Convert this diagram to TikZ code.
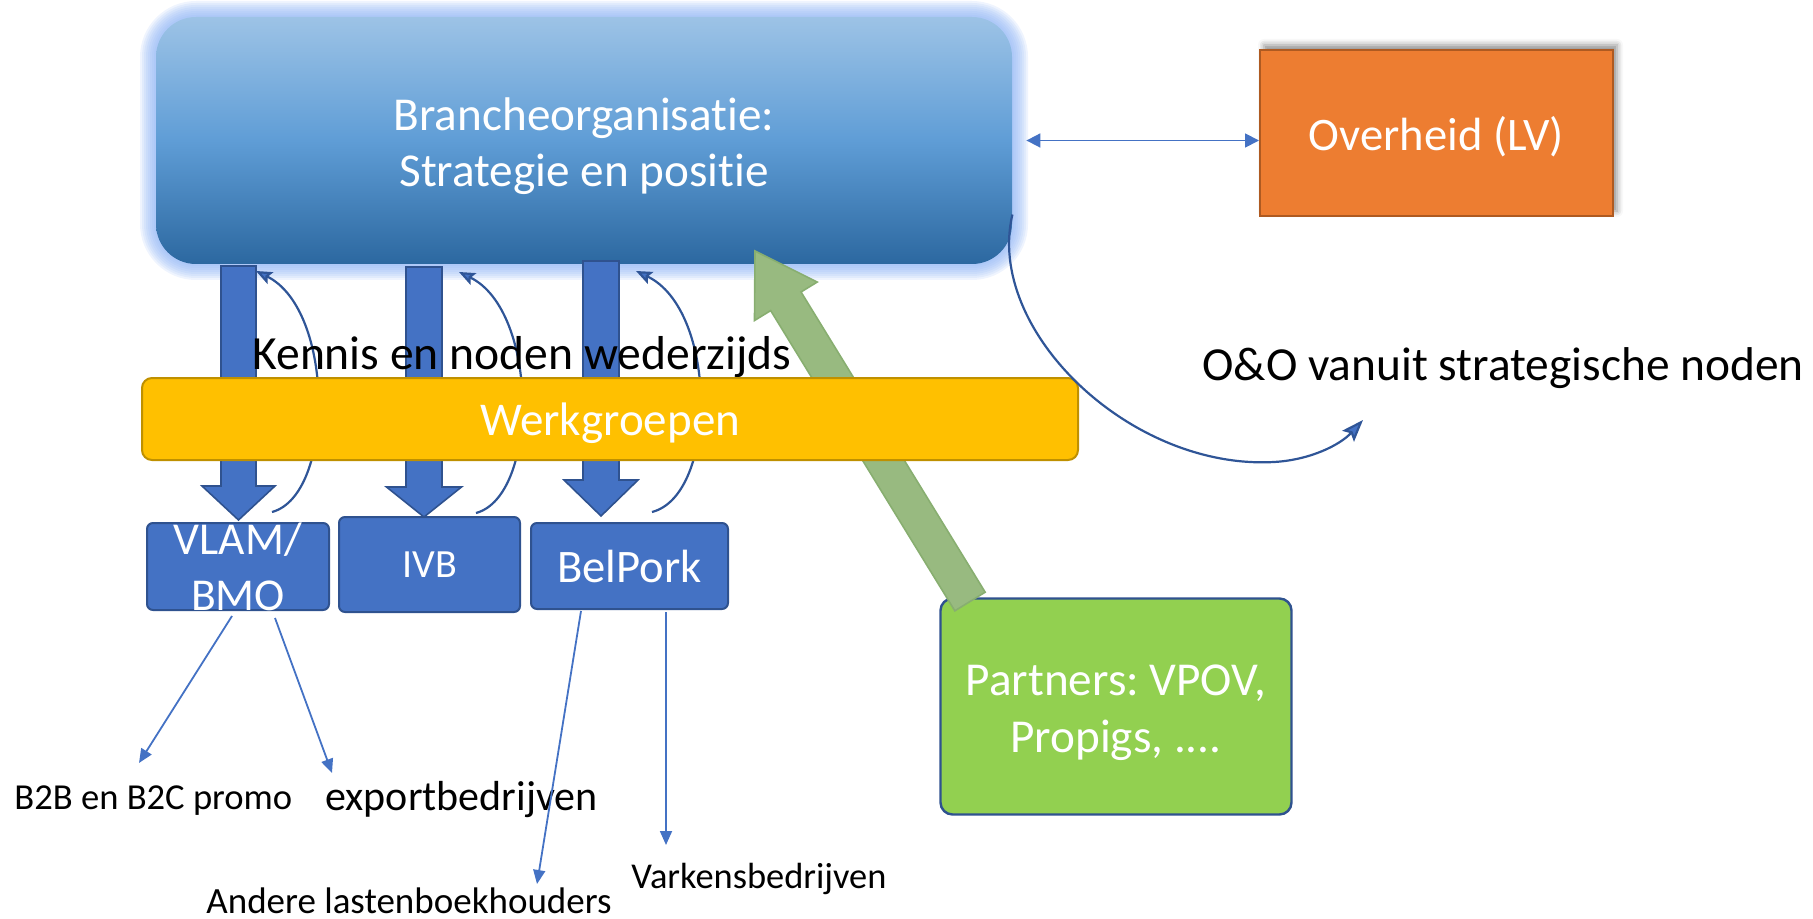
\documentclass[tikz,border=0pt]{standalone}
\usepackage{fontspec}
\setmainfont{Carlito}[Ligatures=NoCommon]
\usetikzlibrary{arrows.meta,shadows.blur,calc}
\frenchspacing

\definecolor{blueA}{RGB}{68,114,196}
\definecolor{blueD}{RGB}{47,82,143}
\definecolor{curveB}{RGB}{47,85,151}
\definecolor{topB}{RGB}{157,195,230}
\definecolor{midB}{RGB}{95,157,214}
\definecolor{botB}{RGB}{44,104,160}
\definecolor{glowB}{RGB}{140,178,245}
\definecolor{orangeF}{RGB}{237,125,49}
\definecolor{orangeD}{RGB}{174,90,33}
\definecolor{goldF}{RGB}{255,192,0}
\definecolor{goldD}{RGB}{191,144,0}
\definecolor{greenF}{RGB}{146,208,80}
\definecolor{greenA}{RGB}{152,186,128}
\definecolor{greenAD}{RGB}{136,174,112}

\newcommand{\blockarrow}[6]{%
  \draw[bigarrow] (#1-#2,#3) -- (#1+#2,#3) -- (#1+#2,#4) -- (#1+#6,#4) -- (#1,#5)
    -- (#1-#6,#4) -- (#1-#2,#4) -- cycle;}

\tikzset{
  mainbox/.style={rectangle, rounded corners=20pt, minimum width=428pt, minimum height=123.5pt,
    top color=topB, bottom color=botB, middle color=midB, inner sep=0pt},
  wtext/.style={text=white, inner sep=0pt, align=center},
  bigfont/.style={font=\fontsize{23.6}{28.3}\selectfont},
  obox/.style={rectangle, fill=orangeF, draw=orangeD, line width=1pt, minimum width=176.5pt,
    minimum height=83pt, text=white, inner sep=0pt, text depth=0pt},
  wbar/.style={rectangle, rounded corners=5pt, fill=goldF, draw=goldD, line width=1pt,
    minimum width=468pt, minimum height=41pt, text=white, inner sep=0pt, text depth=0pt},
  lbox/.style={rectangle, rounded corners=3pt, fill=blueA, draw=blueD, line width=1pt,
    inner sep=0pt, text=white},
  pbox/.style={rectangle, rounded corners=6pt, fill=greenF, draw=blueD, line width=1.2pt,
    minimum width=175.5pt, minimum height=108pt, inner sep=0pt},
  bigarrow/.style={fill=blueA, draw=blueD, line width=0.8pt, line join=miter},
  garrow/.style={fill=greenA, draw=greenAD, line width=0.8pt, line join=miter},
  fb/.style={draw=curveB, line width=1.1pt,
    -{Stealth[length=8pt,width=6.5pt,inset=1.5pt,fill=blueA]}},
  thin/.style={draw=blueA, line width=0.9pt, -{Triangle[length=7pt,width=6pt]}},
  dbl/.style={draw=blueA, line width=0.9pt,
    {Triangle[length=7pt,width=7pt]}-{Triangle[length=7pt,width=7pt]}},
  ocurve/.style={draw=curveB, line width=1.1pt,
    -{Stealth[length=11pt,width=8pt,inset=2pt,fill=blueA]}},
  lab/.style={anchor=base west, inner sep=0pt, text=black},
}

\begin{document}
\begin{tikzpicture}[x=0.5pt,y=-0.5pt]
\useasboundingbox (0,0) rectangle (1813,919);

% glow of the main box
\foreach \g [evaluate=\g as \rc using 20+\g/2] in {16,14,...,2}
  \fill[glowB, opacity=0.14, rounded corners=\rc pt] (156-\g,17-\g) rectangle (1012+\g,264+\g);

% main box
\node[mainbox] (bo) at (584,140.5) {};
\node[wtext, bigfont] (botxt) at ([yshift=-2.75pt]bo.center) {Brancheorganisatie:\\Strategie en positie};

% Overheid
\node[obox, blur shadow={shadow xshift=2pt, shadow yshift=2.5pt, shadow blur radius=3pt, shadow opacity=45},
  font=\fontsize{23.3}{28}\selectfont] (ov) at (1436.5,133) {Overheid (LV)};
\draw[dbl] ([xshift=7pt]bo.east) -- (bo.east -| ov.west);

% big downward arrows
\blockarrow{238.5}{17.5}{266}{486}{520}{36.5}
\blockarrow{424}{18}{267}{487}{517}{37.5}
\blockarrow{601}{18}{261}{480}{516}{37}

% feedback curves
\coordinate (f1s) at (272,512); \coordinate (f1e) at (256,271);
\coordinate (f2s) at (476,513); \coordinate (f2e) at (459,272);
\coordinate (f3s) at (652,512); \coordinate (f3e) at (636,271);
\draw[fb] (f1s) .. controls (335,495) and (335,310) .. (f1e);
\draw[fb] (f2s) .. controls (539,496) and (539,311) .. (f2e);
\draw[fb] (f3s) .. controls (718,495) and (718,310) .. (f3e);

\node[lab, font=\fontsize{23.8}{28}\selectfont] (kennis) at (252,370) {Kennis en noden wederzijds};

% partners box
\node[pbox] (pa) at (1116,706.5) {};
\node[wtext, bigfont] (patxt) at ([yshift=-3.25pt]pa.center) {Partners: VPOV,\\Propigs, ....};

% green arrow
\coordinate (gtip) at (755,251);
\coordinate (gtail) at (970,601.5);
\coordinate (ghb) at ($(gtip)!29.5pt!(gtail)$);
\draw[garrow] (gtip) -- ($(ghb)!18.4pt!90:(gtip)$) -- ($(ghb)!8.9pt!90:(gtip)$)
  -- ($(gtail)!8.9pt!90:(gtip)$) -- ($(gtail)!8.9pt!-90:(gtip)$)
  -- ($(ghb)!8.9pt!-90:(gtip)$) -- ($(ghb)!18.4pt!-90:(gtip)$) -- cycle;

% Werkgroepen bar
\node[wbar, font=\fontsize{23.5}{28}\selectfont] (wg) at (610,419) {Werkgroepen};

% lower boxes
\node[lbox, minimum width=91pt, minimum height=43.5pt] (vlam) at (238,566.5) {};
\node[wtext, font=\fontsize{22.8}{28}\selectfont] (vlamtxt) at (vlam.center) {VLAM/\\BMO};
\node[lbox, minimum width=90.5pt, minimum height=47.5pt, font=\fontsize{20}{24}\selectfont,
  text depth=0pt] (ivb) at (429.5,564.5) {IVB};
\node[lbox, minimum width=98.5pt, minimum height=43pt, font=\fontsize{23.3}{28}\selectfont,
  text depth=0pt] (bp) at (629.5,566) {BelPork};

% lower labels
\node[lab, font=\fontsize{18.3}{22}\selectfont] (b2b) at (14,809) {B2B en B2C promo};
\node[lab, font=\fontsize{21}{25}\selectfont] (exp) at (325,810) {exportbedrijven};
\node[lab, font=\fontsize{18.5}{22}\selectfont] (andere) at (206,913) {Andere lastenboekhouders};
\node[lab, font=\fontsize{18.2}{22}\selectfont] (vark) at (631,888) {Varkensbedrijven};

\coordinate (a1s) at (232,616); \coordinate (a1e) at (139,763);
\coordinate (a2s) at (275,618); \coordinate (a2e) at (332,773);
\coordinate (a3s) at (581,611); \coordinate (a3e) at (537,884);
\coordinate (a4s) at (666,612); \coordinate (a4e) at (666,845);
\draw[thin] (a1s) -- (a1e);
\draw[thin] (a2s) -- (a2e);
\draw[thin] (a3s) -- (a3e);
\draw[thin] (a4s) -- (a4e);

% O&O
\node[lab, font=\fontsize{23.7}{28}\selectfont] (oo) at (1202,380) {O\&O vanuit strategische noden};
\coordinate (oos) at ([yshift=-37pt]bo.east);
\coordinate (ooe) at (1363,420);
\draw[ocurve] (oos) .. controls (985,330) and (1130,470) .. (1274,462)
  .. controls (1310,460) and (1340,445) .. (ooe);
\end{tikzpicture}
\end{document}
